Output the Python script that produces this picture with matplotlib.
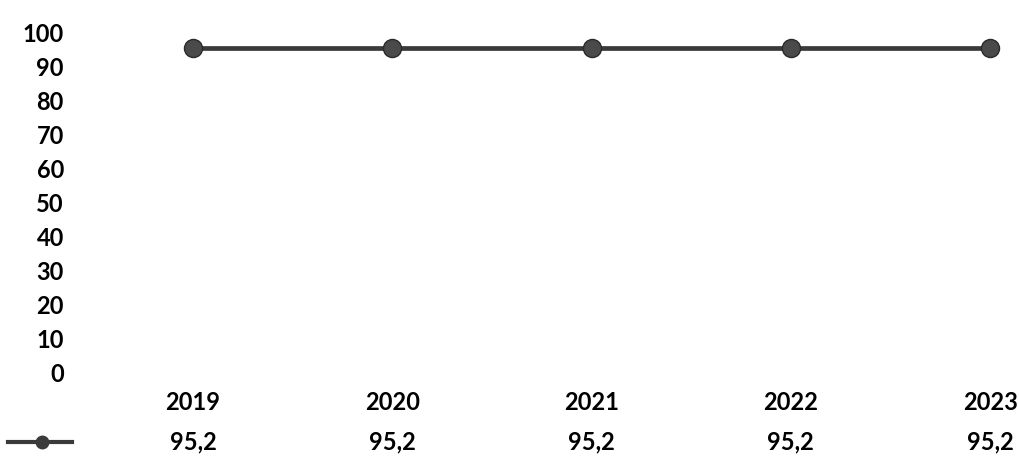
import matplotlib.pyplot as plt

years = ["2019", "2020", "2021", "2022", "2023"]
values = [95.2, 95.2, 95.2, 95.2, 95.2]
value_labels = ["95,2", "95,2", "95,2", "95,2", "95,2"]
y_ticks = [0, 10, 20, 30, 40, 50, 60, 70, 80, 90, 100]

plt.rcParams['font.family'] = ['Lato', 'DejaVu Sans']
plt.rcParams['font.weight'] = 'bold'

fig = plt.figure(figsize=(10.19, 4.58), dpi=100)
# axes in pixels: left 150, right 1010, value 0 at y=372, value 100 at y=32
ax = fig.add_axes([150 / 1019, (458 - 372) / 458, 860 / 1019, 340 / 458])

x = list(range(len(years)))
ax.plot(x, values, color="#3a3a3a", linewidth=3.4, marker="o",
        markersize=13, markerfacecolor="#4a4a4a", markeredgecolor="#2a2a2a",
        clip_on=False)

ax.set_xlim(-0.216, 4.1)
ax.set_ylim(0, 100)
ax.set_yticks(y_ticks)
ax.set_yticklabels([str(t) for t in y_ticks], fontsize=17, fontweight="bold")
ax.tick_params(axis="y", length=0, pad=62)
ax.set_xticks([])
for s in ax.spines.values():
    s.set_visible(False)

# data table row: categories and values
for i in range(len(years)):
    ax.text(i, (372 - 402) / 340, years[i], transform=ax.get_xaxis_transform(),
            ha="center", va="center", fontsize=17, fontweight="bold")
    ax.text(i, (372 - 442) / 340, value_labels[i], transform=ax.get_xaxis_transform(),
            ha="center", va="center", fontsize=17, fontweight="bold")

# legend key in table row
kx = [(8 - 150) / 860, (72 - 150) / 860]
ky = (372 - 442) / 340
ax.plot(kx, [ky, ky], transform=ax.transAxes, color="#3a3a3a", linewidth=3.0,
        clip_on=False)
ax.plot([(42 - 150) / 860], [ky], transform=ax.transAxes, marker="o", markersize=9,
        color="#3a3a3a", clip_on=False)

fig.savefig("out.png", dpi=100)
